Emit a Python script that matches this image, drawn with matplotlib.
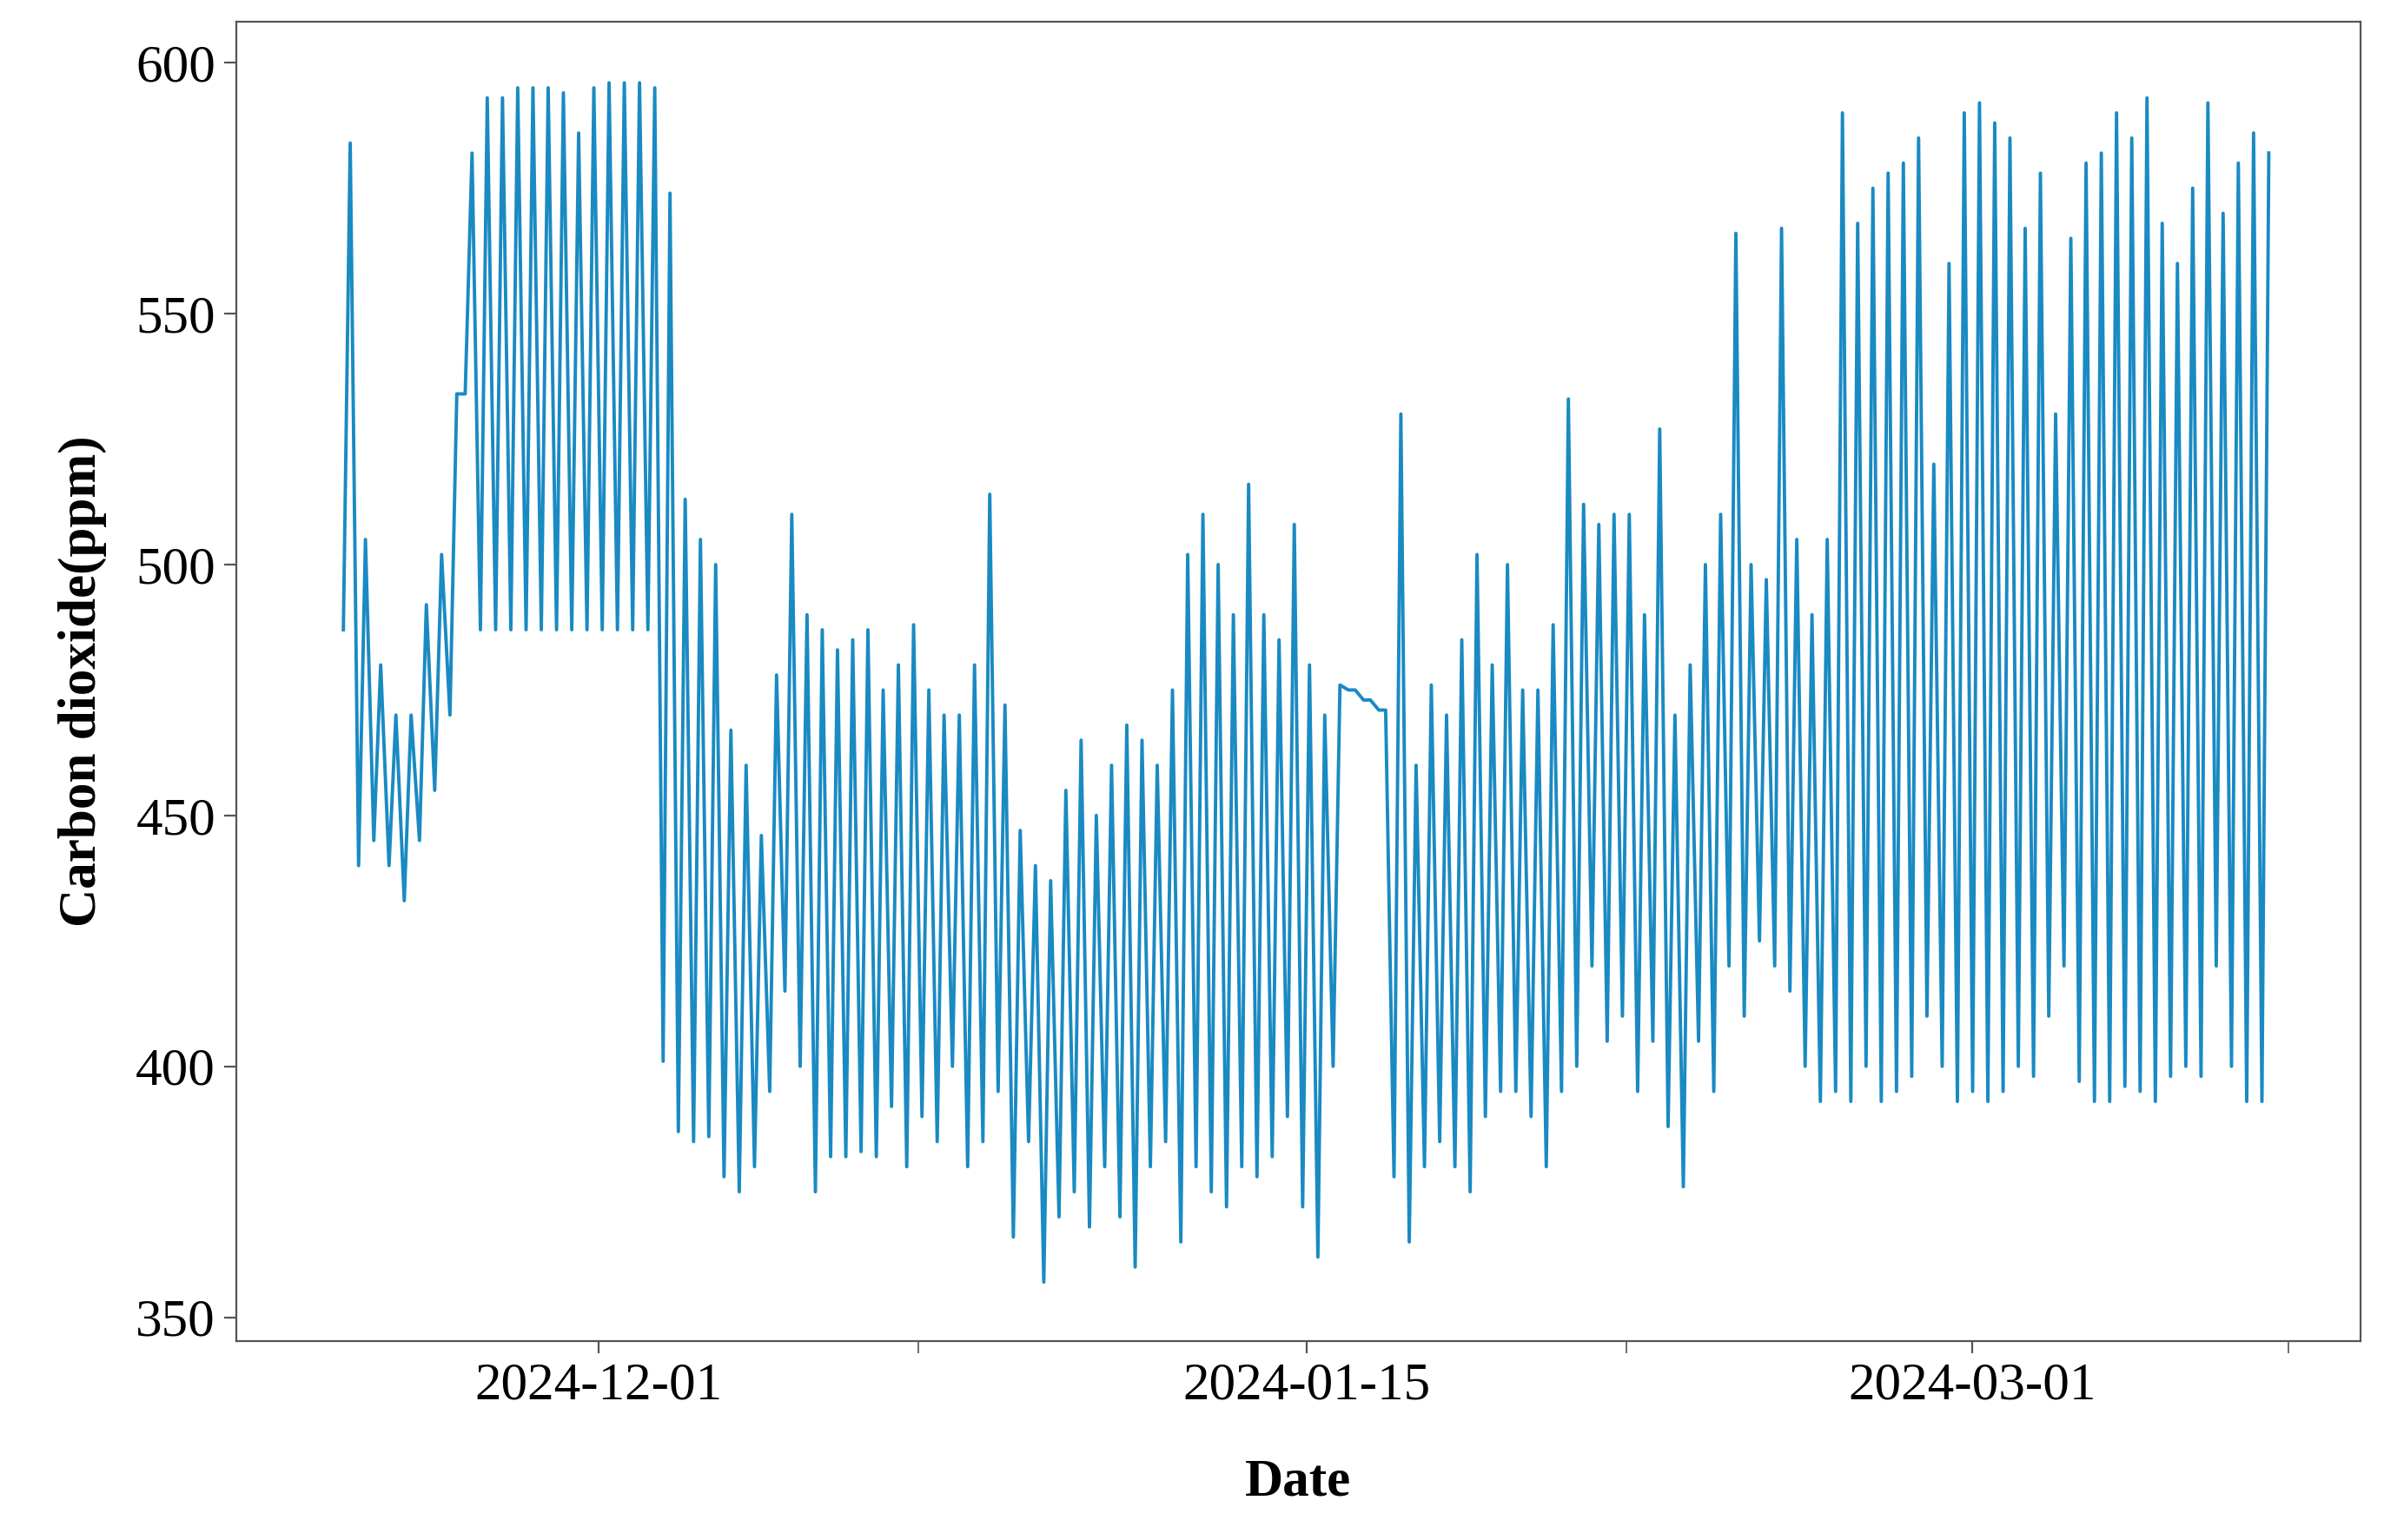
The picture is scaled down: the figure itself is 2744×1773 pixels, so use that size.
import numpy as np
import matplotlib
matplotlib.use("Agg")
import matplotlib.pyplot as plt

# daily trough / peak of CO2 (ppm), day 0 = first labelled tick
first_day = -17
troughs = [487, 440, 445, 440, 433, 445, 455, 470,
           534, 487,
           487, 487, 487, 487, 487, 487, 487, 487, 487, 487, 487,
           401,
           387, 385, 386, 378, 375, 380, 395, 415, 400, 375,
           382, 382, 383, 382, 392, 380, 390, 385, 400, 380,
           385, 395, 366, 385, 357, 370, 375, 368, 380, 370,
           360, 380, 385, 365, 380, 375, 372, 380, 378, 382,
           390, 372, 362,
           400, 475, 473, 471,
           378, 365, 380, 385, 380, 375, 390, 395, 395, 390,
           380, 395, 400, 420, 405, 410, 395, 405, 388, 376,
           405, 395, 420, 410, 425, 420, 415, 400, 393, 395,
           393, 400, 393, 395, 398, 410, 400, 393, 395, 393,
           395, 400, 398, 410, 420, 397, 393, 393, 396, 395,
           393, 398, 400, 398, 420, 400, 393, 393]
peaks = [584, 505, 480, 470, 470, 492, 502, 534,
         582, 593,
         593, 595, 595, 595, 594, 586, 595, 596, 596, 596, 595,
         574,
         513, 505, 500, 467, 460, 446, 478, 510, 490, 487,
         483, 485, 487, 475, 480, 488, 475, 470, 470, 480,
         514, 472, 447, 440, 437, 455, 465, 450, 460, 468,
         465, 460, 475, 502, 510, 500, 490, 516, 490, 485,
         508, 480, 470,
         476, 475, 473, 471,
         530, 460, 476, 470, 485, 502, 480, 500, 475, 475,
         488, 533, 512, 508, 510, 510, 490, 527, 470, 480,
         500, 510, 566, 500, 497, 567, 505, 490, 505, 590,
         568, 575, 578, 580, 585, 520, 560, 590, 592, 588,
         585, 567, 578, 530, 565, 580, 582, 590, 585, 593,
         568, 560, 575, 592, 570, 580, 586, 582]
assert len(troughs) == len(peaks)

tick_days = [0, 46.5, 90.2]
tick_labels = ["2024-12-01", "2024-01-15", "2024-03-01"]
minor_days = [21, 67.5, 111]

days = first_day + np.arange(len(peaks))
x = np.column_stack([days + 0.25, days + 0.7]).ravel()
y = np.column_stack([troughs, peaks]).ravel()

plt.rcParams["font.family"] = ["Liberation Serif", "DejaVu Serif"]
fig = plt.figure(figsize=(13.72, 8.865), dpi=200)
ax = fig.add_axes([0.099, 0.129, 0.891, 0.857])
ax.plot(x, y, color="#1a8ac2", linewidth=1.4)

ax.set_xlim(-23.8, 115.7)
ax.set_ylim(345.2, 608.2)
ax.set_yticks([350, 400, 450, 500, 550, 600])
ax.set_xticks(tick_days)
ax.set_xticklabels(tick_labels)
ax.set_xticks(minor_days, minor=True)
ax.tick_params(labelsize=22, length=5, color="#555555")
ax.tick_params(which="minor", length=5, color="#555555")
for s in ax.spines.values():
    s.set_color("#555555")
ax.set_xlabel("Date", fontsize=22, fontweight="bold", labelpad=20)
ax.set_ylabel("Carbon dioxide(ppm)", fontsize=22, fontweight="bold", labelpad=12)

fig.savefig("out.png", dpi=200)
